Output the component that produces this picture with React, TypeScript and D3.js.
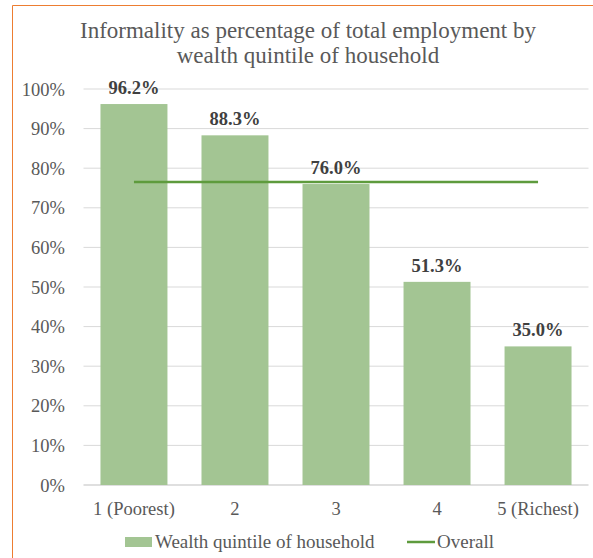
import React from "react";
import * as d3 from "d3";

const categories = ["1 (Poorest)", "2", "3", "4", "5 (Richest)"];
const values = [96.2, 88.3, 76.0, 51.3, 35.0];
const overall = [76.5, 76.5, 76.5, 76.5, 76.5];
const yTicks = [0, 10, 20, 30, 40, 50, 60, 70, 80, 90, 100];
const titleLines = ["Informality as percentage of total employment by", "wealth quintile of household"];
const legendLabels = ["Wealth quintile of household", "Overall"];

export default function App() {
  const W = 593, H = 558;
  const left = 83.5, right = 588.5, top = 89, bottom = 485;
  const x = d3.scaleBand<string>().domain(categories).range([left, right]).paddingInner(0.337).paddingOuter(0.168);
  const y = d3.scaleLinear().domain([0, 100]).range([bottom, top]);
  const font = "'Liberation Serif', 'Times New Roman', serif";
  const txt = "#595959";
  const line = d3.line<number>().x((_, i) => (x(categories[i]) as number) + x.bandwidth() / 2).y(d => y(d));
  return (
    <svg width={W} height={H} style={{ position: "absolute", left: 0, top: 0 }} fontFamily={font}>
      <rect x={0} y={0} width={W} height={H} fill="#fff" />
      <line x1={12.5} y1={5.5} x2={W} y2={5.5} stroke="#ED7D31" strokeWidth={1} />
      <line x1={12.5} y1={5.5} x2={12.5} y2={H} stroke="#ED7D31" strokeWidth={1} />
      {titleLines.map((t, i) => (
        <text key={i} x={308} y={38 + i * 25} textAnchor="middle" fontSize={23} fill={txt}>{t}</text>
      ))}
      {yTicks.map(t => (
        <g key={t}>
          <line x1={left} x2={right} y1={y(t)} y2={y(t)} stroke={t === 0 ? "#bfbfbf" : "#d9d9d9"} strokeWidth={1} />
          <text x={65} y={y(t) + 6.5} textAnchor="end" fontSize={18.5} fill={txt}>{t}%</text>
        </g>
      ))}
      {categories.map((c, i) => (
        <g key={c}>
          <rect x={x(c)} y={y(values[i])} width={x.bandwidth()} height={bottom - y(values[i])} fill="#A3C593" />
          <text x={(x(c) as number) + x.bandwidth() / 2} y={y(values[i]) - 10} textAnchor="middle" fontSize={18.5} fontWeight="bold" fill="#404040">{values[i].toFixed(1)}%</text>
          <text x={(x(c) as number) + x.bandwidth() / 2} y={515} textAnchor="middle" fontSize={18.5} fill={txt}>{c}</text>
        </g>
      ))}
      <path d={line(overall) || ""} fill="none" stroke="#5E9B3D" strokeWidth={2.5} />
      <rect x={125} y={537} width={27} height={10} fill="#A3C593" />
      <text x={155} y={548} fontSize={19} fill={txt}>{legendLabels[0]}</text>
      <line x1={407} x2={435} y1={542} y2={542} stroke="#5E9B3D" strokeWidth={2.5} />
      <text x={437} y={548} fontSize={19} fill={txt}>{legendLabels[1]}</text>
    </svg>
  );
}
